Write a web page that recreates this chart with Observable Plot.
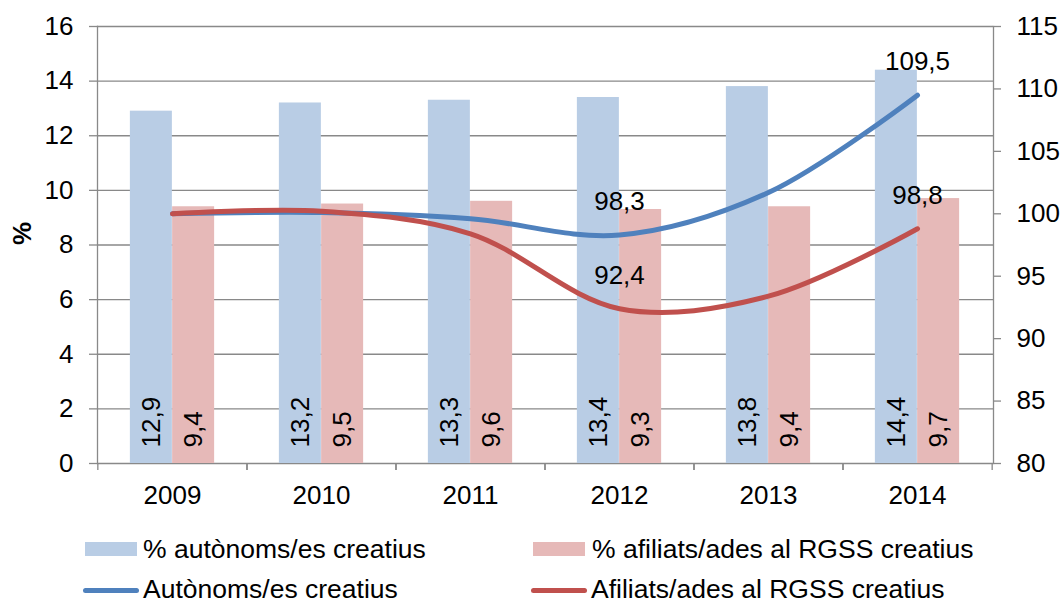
<!DOCTYPE html>
<html>
<head>
<meta charset="utf-8">
<script src="https://cdn.jsdelivr.net/npm/d3@7"></script>
<script src="https://cdn.jsdelivr.net/npm/@observablehq/plot@0.6"></script>
<style>
  html, body { margin: 0; padding: 0; background: #fff; overflow: hidden; }
  body { font-family: "Liberation Sans", Arial, sans-serif; }
  #legend { position: relative; width: 1064px; height: 83px; font-size: 26.5px; color: #000; }
  #legend .sw { position: absolute; }
  #legend .lab { position: absolute; line-height: 28px; white-space: nowrap; }
</style>
</head>
<body>
<div id="chart"></div>
<div id="legend"></div>
<script>
// ---- data ----
const years = ["2009", "2010", "2011", "2012", "2013", "2014"];
const pctAutonoms = [12.9, 13.2, 13.3, 13.4, 13.8, 14.4];
const pctAfiliats = [9.4, 9.5, 9.6, 9.3, 9.4, 9.7];
const idxAutonoms = [100, 100.1, 99.6, 98.3, 101.7, 109.5];
const idxAfiliats = [100, 100.2, 98.4, 92.4, 93.4, 98.8];
const lineLabelYears = ["2012", "2014"];
const leftTicks = [0, 2, 4, 6, 8, 10, 12, 14, 16];
const rightTicks = [80, 85, 90, 95, 100, 105, 110, 115];
const seriesNames = ["% autònoms/es creatius", "% afiliats/ades al RGSS creatius", "Autònoms/es creatius", "Afiliats/ades al RGSS creatius"];

// ---- styles ----
const C = { barBlue: "#B9CDE5", barPink: "#E6B9B8", lineBlue: "#4F81BD", lineRed: "#C0504D", grid: "#898989" };
const FONT = "'Liberation Sans', Arial, sans-serif";

const rows = years.map((y, i) => ({
  year: y, a: pctAutonoms[i], b: pctAfiliats[i], ia: idxAutonoms[i], ib: idxAfiliats[i]
}));

// right axis (80..115) mapped onto left axis (0..16)
const R0 = 80, R1 = 115, L1 = 16;
const toLeft = v => (v - R0) * L1 / (R1 - R0);
const fromLeft = d => R0 + d * (R1 - R0) / L1;
const fmt = v => v.toFixed(1).replace(".", ",");

const W = 1064, H = 520, mL = 97, mR = 71, mT = 26, mB = 57;
const padIn = 0.717;
const step = (W - mL - mR) / years.length;
const bw = step * (1 - padIn);

const chart = Plot.plot({
  width: W, height: H,
  marginLeft: mL, marginRight: mR, marginTop: mT, marginBottom: mB,
  style: { fontFamily: FONT, fontSize: "26px", color: "#000", background: "#fff" },
  x: { type: "band", domain: years, paddingInner: padIn, paddingOuter: padIn / 2, align: 0.5, axis: null },
  y: { domain: [0, L1], axis: null },
  marks: [
    Plot.gridY(leftTicks, { stroke: C.grid, strokeOpacity: 1, strokeWidth: 1.3 }),
    Plot.axisY({ ticks: leftTicks, tickSize: 8, tickPadding: 16, stroke: C.grid, strokeWidth: 1.3, fill: "#000", label: null, tickFormat: d => String(d) }),
    Plot.axisY({ anchor: "right", ticks: rightTicks.map(toLeft), tickSize: 7, tickPadding: 16, stroke: C.grid, strokeWidth: 1.3, fill: "#000", label: null, tickFormat: d => String(Math.round(fromLeft(d))) }),
    Plot.barY(rows, { x: "year", y: "a", fill: C.barBlue, dx: -bw / 2 }),
    Plot.barY(rows, { x: "year", y: "b", fill: C.barPink, dx: bw / 2 }),
    Plot.frame({ anchor: "left", stroke: C.grid, strokeWidth: 1.3 }),
    Plot.frame({ anchor: "right", stroke: C.grid, strokeWidth: 1.3 }),
    Plot.axisX({ tickSize: 7, stroke: C.grid, strokeWidth: 1.3, text: null, dx: -step / 2, label: null }),
    Plot.axisX({ tickSize: 7, stroke: C.grid, strokeWidth: 1.3, text: null, dx: step / 2, label: null }),
    Plot.axisX({ tickSize: 0, tickPadding: 22, fill: "#000", label: null }),
    Plot.text(rows, { x: "year", y: 0, text: d => fmt(d.a), rotate: -90, textAnchor: "start", dx: -bw / 2, dy: -16, fontSize: 26, fill: "#000" }),
    Plot.text(rows, { x: "year", y: 0, text: d => fmt(d.b), rotate: -90, textAnchor: "start", dx: bw / 2, dy: -16, fontSize: 26, fill: "#000" }),
    Plot.line(rows, { x: "year", y: d => toLeft(d.ia), stroke: C.lineBlue, strokeWidth: 5, curve: "catmull-rom", strokeLinecap: "round" }),
    Plot.line(rows, { x: "year", y: d => toLeft(d.ib), stroke: C.lineRed, strokeWidth: 5, curve: "catmull-rom", strokeLinecap: "round" }),
    Plot.text(rows.filter(d => lineLabelYears.includes(d.year)), { x: "year", y: d => toLeft(d.ia), text: d => fmt(d.ia), dy: -33, fontSize: 26, fill: "#000" }),
    Plot.text(rows.filter(d => lineLabelYears.includes(d.year)), { x: "year", y: d => toLeft(d.ib), text: d => fmt(d.ib), dy: -33, fontSize: 26, fill: "#000" }),
    Plot.text(["%"], { frameAnchor: "left", dx: -75, rotate: -90, text: d => d, fontWeight: "bold", fontSize: 26, fill: "#000" })
  ]
});
document.getElementById("chart").appendChild(chart);

// ---- legend (below the SVG) ----
const legend = d3.select("#legend");
const items = [
  { name: seriesNames[0], kind: "rect", color: C.barBlue, sx: 85, tx: 143, row: 0 },
  { name: seriesNames[1], kind: "rect", color: C.barPink, sx: 533, tx: 592, row: 0 },
  { name: seriesNames[2], kind: "line", color: C.lineBlue, sx: 83, tx: 143, row: 1 },
  { name: seriesNames[3], kind: "line", color: C.lineRed, sx: 531, tx: 591, row: 1 }
];
for (const it of items) {
  if (it.kind === "rect") {
    legend.append("div").attr("class", "sw")
      .style("left", it.sx + "px").style("top", "22px")
      .style("width", "52px").style("height", "14px").style("background", it.color);
  } else {
    legend.append("div").attr("class", "sw")
      .style("left", it.sx + "px").style("top", "68px")
      .style("width", "56px").style("height", "5px").style("border-radius", "3px").style("background", it.color);
  }
  legend.append("div").attr("class", "lab")
    .style("left", it.tx + "px").style("top", (it.row === 0 ? 15 : 55) + "px")
    .text(it.name);
}
</script>
</body>
</html>
